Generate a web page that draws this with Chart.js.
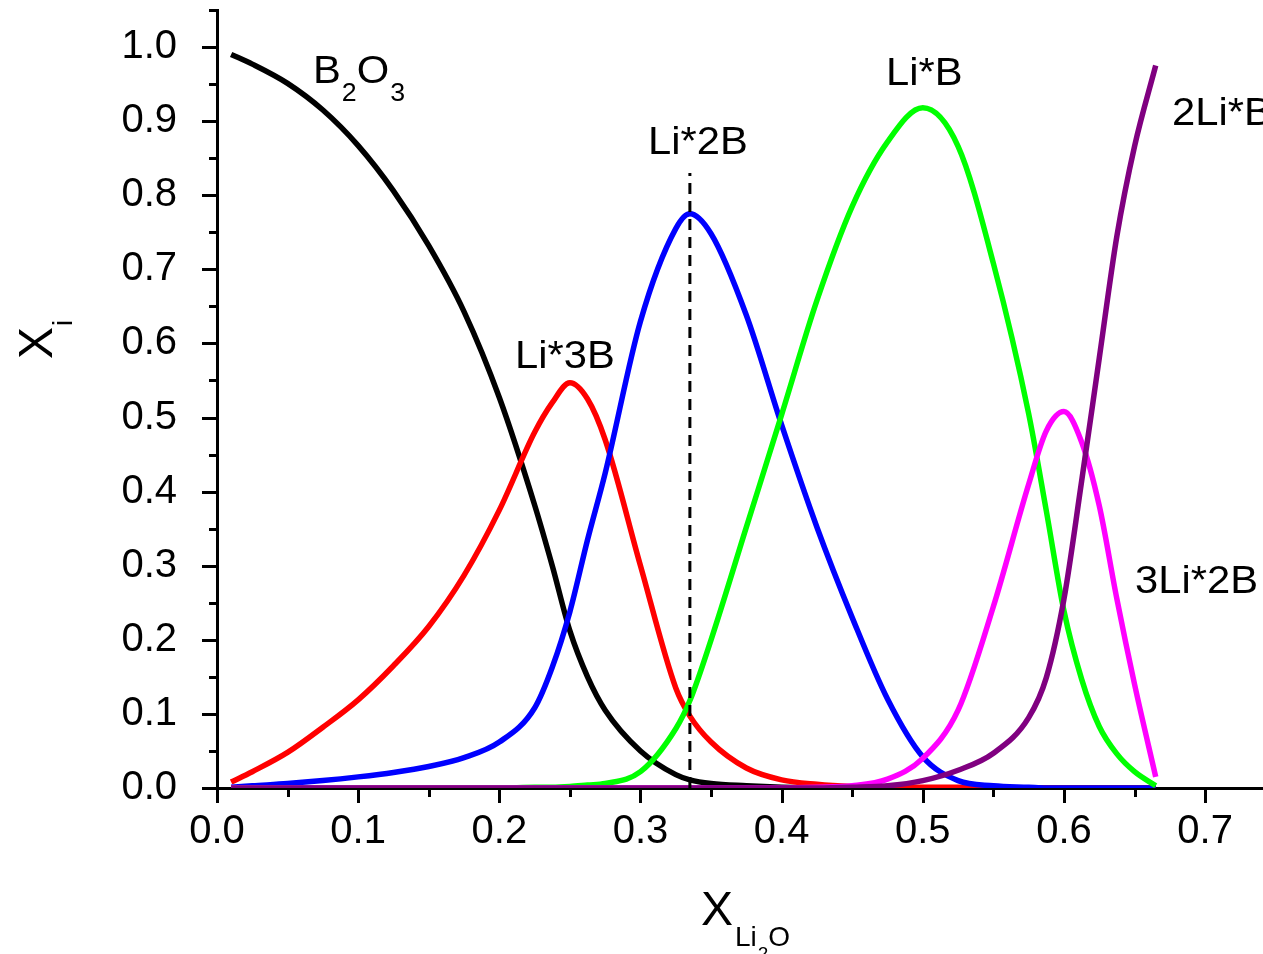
<!DOCTYPE html>
<html>
<head>
<meta charset="utf-8">
<script src="https://cdn.jsdelivr.net/npm/chart.js@4.4.1/dist/chart.umd.min.js"></script>
<style>
  html, body { margin: 0; padding: 0; background: #fff; }
  #wrap { width: 1263px; height: 954px; }
</style>
</head>
<body>
<div id="wrap"><canvas id="c" width="1263" height="954"></canvas></div>
<script>
// ---- data ----
const xValues = [0.01, 0.025, 0.05, 0.075, 0.1, 0.125, 0.15, 0.175, 0.2, 0.225, 0.2375, 0.25, 0.2625, 0.275, 0.3, 0.325, 0.335, 0.35, 0.375, 0.4, 0.425, 0.45, 0.475, 0.5, 0.525, 0.55, 0.575, 0.5875, 0.6, 0.6125, 0.625, 0.6375, 0.65, 0.665];
const B2O3   = [0.99, 0.977, 0.951, 0.915, 0.867, 0.806, 0.732, 0.643, 0.527, 0.382, 0.30, 0.212, 0.15, 0.105, 0.05, 0.018, 0.011, 0.006, 0.003, 0.001, 0, 0, 0, 0, 0, 0, 0, 0, 0, 0, 0, 0, 0, 0];
const Li3B   = [0.008, 0.022, 0.048, 0.082, 0.119, 0.165, 0.218, 0.287, 0.375, 0.48, 0.52, 0.547, 0.525, 0.47, 0.30, 0.135, 0.097, 0.062, 0.027, 0.011, 0.005, 0.002, 0.001, 0.001, 0.001, 0, 0, 0, 0, 0, 0, 0, 0, 0];
const Li2B   = [0.001, 0.003, 0.006, 0.01, 0.015, 0.021, 0.029, 0.041, 0.062, 0.108, 0.163, 0.238, 0.335, 0.425, 0.63, 0.755, 0.775, 0.748, 0.638, 0.49, 0.352, 0.23, 0.12, 0.042, 0.01, 0.003, 0.001, 0, 0, 0, 0, 0, 0, 0];
const LiB    = [0, 0, 0, 0, 0, 0, 0, 0, 0, 0.001, 0.001, 0.002, 0.004, 0.006, 0.022, 0.08, 0.118, 0.2, 0.352, 0.504, 0.658, 0.785, 0.872, 0.918, 0.866, 0.708, 0.505, 0.374, 0.239, 0.147, 0.083, 0.046, 0.022, 0.003];
const Li3_2B = [0, 0, 0, 0, 0, 0, 0, 0, 0, 0, 0, 0, 0, 0, 0, 0, 0, 0, 0, 0, 0.001, 0.003, 0.012, 0.04, 0.105, 0.245, 0.41, 0.482, 0.508, 0.467, 0.381, 0.255, 0.14, 0.015];
const Li2_B  = [0, 0, 0, 0, 0, 0, 0, 0, 0, 0, 0, 0, 0, 0, 0, 0, 0, 0, 0, 0, 0, 0.001, 0.003, 0.01, 0.024, 0.047, 0.095, 0.149, 0.255, 0.414, 0.58, 0.745, 0.866, 0.975];
const dashX = 0.335;
const dashTop = 0.83;
const xTickValues = [0, 0.1, 0.2, 0.3, 0.4, 0.5, 0.6, 0.7];
const yTickValues = [0, 0.1, 0.2, 0.3, 0.4, 0.5, 0.6, 0.7, 0.8, 0.9, 1.0];
const xMinorValues = [0.05, 0.15, 0.25, 0.35, 0.45, 0.55, 0.65];
const yMinorValues = [0.05, 0.15, 0.25, 0.35, 0.45, 0.55, 0.65, 0.75, 0.85, 0.95, 1.05];

const FONT = '"Liberation Sans", Arimo, Arial, sans-serif';

function series(ys) { return xValues.map((x, i) => ({ x: x, y: ys[i] })); }
function line(label, ys, color, order) {
  return { label, data: series(ys), borderColor: color, backgroundColor: color, borderWidth: 5.5,
           pointRadius: 0, fill: false, cubicInterpolationMode: 'monotone', order };
}

function drawText(ctx, s, x, y, size, sx) {
  ctx.save();
  ctx.font = size + 'px ' + FONT;
  ctx.fillStyle = '#000';
  ctx.textBaseline = 'alphabetic';
  ctx.textAlign = 'left';
  ctx.translate(x, y);
  ctx.scale(sx, 1);
  ctx.fillText(s, 0, 0);
  const w = ctx.measureText(s).width * sx;
  ctx.restore();
  return w;
}

const decor = {
  id: 'decor',
  afterDraw(chart) {
    const ctx = chart.ctx;
    const xs = chart.scales.x, ys = chart.scales.y;
    const area = chart.chartArea;
    ctx.save();
    ctx.strokeStyle = '#000';
    ctx.lineWidth = 3;
    ctx.beginPath();
    xTickValues.forEach(v => { const p = Math.round(xs.getPixelForValue(v)) + 0.5; ctx.moveTo(p, area.bottom); ctx.lineTo(p, area.bottom + 15); });
    xMinorValues.forEach(v => { const p = Math.round(xs.getPixelForValue(v)) + 0.5; ctx.moveTo(p, area.bottom); ctx.lineTo(p, area.bottom + 9); });
    yTickValues.forEach(v => { const p = Math.round(ys.getPixelForValue(v)) + 0.5; ctx.moveTo(area.left, p); ctx.lineTo(area.left - 15, p); });
    yMinorValues.forEach(v => { const p = Math.round(ys.getPixelForValue(v)) + 0.5; ctx.moveTo(area.left, p); ctx.lineTo(area.left - 8, p); });
    ctx.stroke();
    ctx.restore();

    const S = 39, SX = 1.07, SUB = 25;
    // B2O3
    let x = 313;
    x += drawText(ctx, 'B', x, 83, S, SX);
    x += drawText(ctx, '2', x + 1, 101, SUB, SX) + 1;
    x += drawText(ctx, 'O', x, 83, S, SX);
    drawText(ctx, '3', x + 1, 101, SUB, SX);
    drawText(ctx, 'Li*3B', 515, 368, S, SX);
    drawText(ctx, 'Li*2B', 648, 154, S, SX);
    drawText(ctx, 'Li*B', 886, 85, S, SX);
    drawText(ctx, '2Li*B', 1172, 125, S, SX);
    drawText(ctx, '3Li*2B', 1135, 593, S, SX);

    // x axis title  X_{Li2O}
    drawText(ctx, 'X', 701, 925, 48, 1);
    let t = 735;
    t += drawText(ctx, 'Li', t, 946, 28, 1);
    t += drawText(ctx, '2', t + 1, 960, 19, 1) + 1;
    drawText(ctx, 'O', t, 946, 28, 1);

    // y axis title X_i (rotated)
    ctx.save();
    ctx.translate(52, 359);
    ctx.rotate(-Math.PI / 2);
    ctx.font = '48px ' + FONT;
    ctx.fillStyle = '#000';
    ctx.fillText('X', 0, 0);
    const wx = ctx.measureText('X').width;
    ctx.font = '28px ' + FONT;
    ctx.fillText('i', wx + 1, 20);
    ctx.restore();
  }
};

new Chart(document.getElementById('c'), {
  type: 'line',
  data: {
    datasets: [
      line('2Li*B', Li2_B, '#800080', 1),
      line('3Li*2B', Li3_2B, '#ff00ff', 2),
      line('Li*B', LiB, '#00ff00', 3),
      line('Li*2B', Li2B, '#0000ff', 4),
      line('Li*3B', Li3B, '#ff0000', 5),
      line('B2O3', B2O3, '#000000', 6),
      { label: 'dash', data: [{ x: dashX, y: 0 }, { x: dashX, y: dashTop }], borderColor: '#000', borderWidth: 3,
        borderDash: [11, 7], pointRadius: 0, fill: false, order: 0 }
    ]
  },
  options: {
    responsive: false,
    devicePixelRatio: 1,
    animation: false,
    events: [],
    layout: { padding: { top: 10, right: 0, left: 0, bottom: 0 } },
    plugins: { legend: { display: false }, tooltip: { enabled: false }, title: { display: false } },
    scales: {
      x: {
        type: 'linear', min: 0, max: 0.741,
        afterBuildTicks: s => { s.ticks = xTickValues.map(v => ({ value: v })); },
        afterFit: s => { s.height = 166; s.paddingLeft = 0; s.paddingRight = 0; },
        grid: { display: false, drawTicks: false },
        border: { display: true, color: '#000', width: 3 },
        ticks: { padding: 20, color: '#000', font: { family: FONT, size: 40 }, maxRotation: 0, autoSkip: false,
                 callback: v => Number(v).toFixed(1) }
      },
      y: {
        type: 'linear', min: 0, max: 1.05,
        afterBuildTicks: s => { s.ticks = yTickValues.map(v => ({ value: v })); },
        afterFit: s => { s.width = 217; s.paddingTop = 0; s.paddingBottom = 0; },
        grid: { display: false, drawTicks: false },
        border: { display: true, color: '#000', width: 3 },
        ticks: { padding: 40, color: '#000', font: { family: FONT, size: 40 }, autoSkip: false,
                 callback: v => Number(v).toFixed(1) }
      }
    }
  },
  plugins: [decor]
});
</script>
</body>
</html>
